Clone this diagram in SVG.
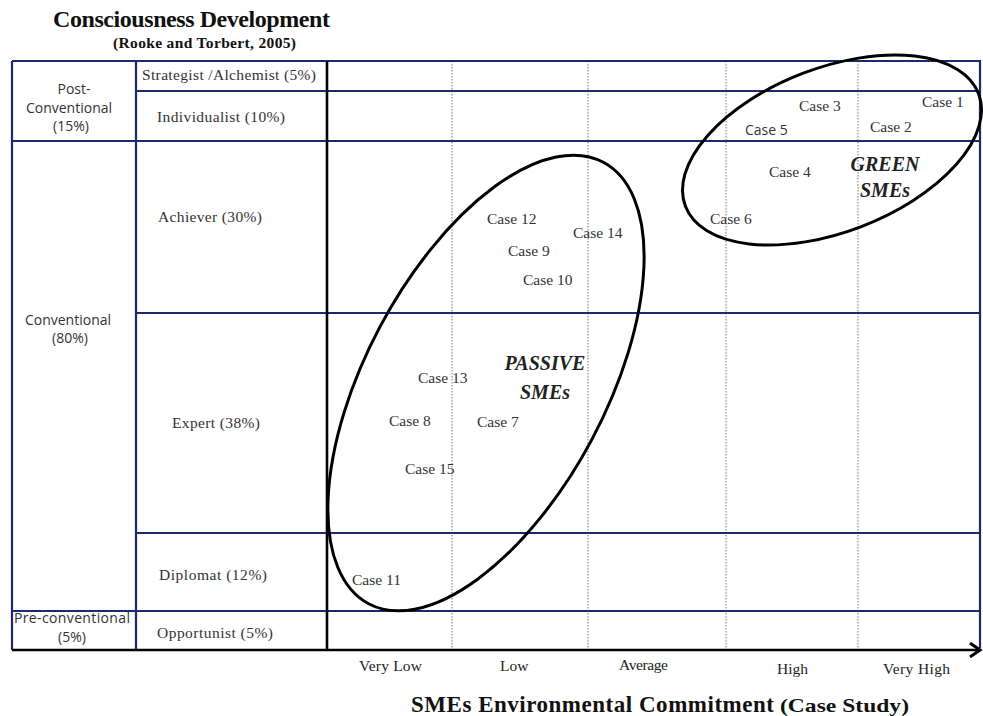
<svg xmlns="http://www.w3.org/2000/svg" width="983" height="716" viewBox="0 0 983 716">
<style>
.nv{stroke:#1b2a6e;stroke-width:2.2;fill:none}
.bk{stroke:#000;stroke-width:2.6;fill:none}
.dt{stroke:#777;stroke-width:1;stroke-dasharray:1.5 1.5;fill:none}
.el{stroke:#000;stroke-width:3;fill:none}
.ttl{font-family:"Liberation Serif",serif;font-weight:bold;fill:#111}
.grp{font-family:"Open Sans","Liberation Sans",sans-serif;font-size:14px;fill:#333;text-anchor:middle}
.lvl{font-family:"Liberation Serif",serif;font-size:15.5px;fill:#333}
.cs{font-family:"Liberation Serif",serif;font-size:15.5px;fill:#333}
.css{font-family:"Open Sans","Liberation Sans",sans-serif;font-size:14px;fill:#333}
.big{font-family:"Liberation Serif",serif;font-size:20px;font-weight:bold;font-style:italic;fill:#222;text-anchor:middle}
.ax{font-family:"Liberation Serif",serif;font-size:15.5px;fill:#222}
</style>
<defs>
<marker id="arr" markerWidth="14" markerHeight="16" refX="12" refY="8" orient="auto" markerUnits="userSpaceOnUse">
<path d="M2,1 L12,8 L2,15" fill="none" stroke="#000" stroke-width="3"/>
</marker>
</defs>
<rect width="983" height="716" fill="#fff"/>

<g id="titles">
<text class="ttl" x="53" y="27" font-size="24" textLength="277">Consciousness Development</text>
<text class="ttl" x="113" y="48" font-size="15.5" textLength="183">(Rooke and Torbert, 2005)</text>
<text class="ttl" x="411" y="712" font-size="23" textLength="363">SMEs Environmental Commitment</text>
<text class="ttl" x="780" y="712" font-size="19" textLength="129" lengthAdjust="spacingAndGlyphs">(Case Study)</text>
</g>

<g id="grid">
<line class="dt" x1="452" y1="61" x2="452" y2="649"/>
<line class="dt" x1="588" y1="61" x2="588" y2="649"/>
<line class="dt" x1="726" y1="61" x2="726" y2="649"/>
<line class="dt" x1="858" y1="61" x2="858" y2="649"/>
<line class="nv" x1="12" y1="61" x2="981" y2="61"/>
<line class="nv" x1="136" y1="91" x2="981" y2="91"/>
<line class="nv" x1="12" y1="141" x2="981" y2="141"/>
<line class="nv" x1="136" y1="313" x2="981" y2="313"/>
<line class="nv" x1="136" y1="533" x2="981" y2="533"/>
<line class="nv" x1="12" y1="611" x2="981" y2="611"/>
<line class="nv" x1="12" y1="61" x2="12" y2="650"/>
<line class="nv" x1="136" y1="61" x2="136" y2="650"/>
<line class="nv" x1="980" y1="61" x2="980" y2="648"/>
<line class="bk" x1="327" y1="61" x2="327" y2="650"/>
</g>

<g id="connectors">
<line class="bk" x1="12" y1="650" x2="980" y2="650" marker-end="url(#arr)"/>
</g>

<g id="groups">
<text class="grp" x="74" y="94">Post-</text>
<text class="grp" x="69" y="113">Conventional</text>
<text class="grp" x="71" y="131">(15%)</text>
<text class="grp" x="68" y="325">Conventional</text>
<text class="grp" x="70" y="343">(80%)</text>
<text class="grp" x="72" y="623" font-size="12.5" textLength="116">Pre-conventional</text>
<text class="grp" x="72" y="642" font-size="12.5">(5%)</text>
</g>

<g id="levels">
<text class="lvl" x="142" y="80" textLength="174">Strategist /Alchemist (5%)</text>
<text class="lvl" x="157" y="122" textLength="128">Individualist (10%)</text>
<text class="lvl" x="158" y="222" textLength="104">Achiever (30%)</text>
<text class="lvl" x="172" y="428" textLength="88">Expert (38%)</text>
<text class="lvl" x="159" y="580" textLength="108">Diplomat (12%)</text>
<text class="lvl" x="157" y="638" textLength="116">Opportunist (5%)</text>
</g>

<g id="axis-labels">
<text class="ax" x="359" y="671" textLength="63">Very Low</text>
<text class="ax" x="500" y="671" font-size="16">Low</text>
<text class="ax" x="619" y="670" textLength="49">Average</text>
<text class="ax" x="777" y="674">High</text>
<text class="ax" x="883" y="674" textLength="67">Very High</text>
</g>

<g id="green-smes">
<ellipse class="el" cx="832" cy="150" rx="157" ry="82" transform="rotate(-21 832 150)"/>
<text class="big" x="885" y="171">GREEN</text>
<text class="big" x="885" y="197">SMEs</text>
</g>
<g id="passive-smes">
<ellipse class="el" cx="486" cy="383" rx="250" ry="120" transform="rotate(-62 486 383)"/>
<text class="big" x="545" y="370">PASSIVE</text>
<text class="big" x="545" y="399">SMEs</text>
</g>

<g id="case1"><text class="cs" x="922" y="107">Case 1</text></g>
<g id="case2"><text class="cs" x="870" y="132">Case 2</text></g>
<g id="case3"><text class="cs" x="799" y="111">Case 3</text></g>
<g id="case4"><text class="cs" x="769" y="177">Case 4</text></g>
<g id="case5"><text class="css" x="745" y="135">Case 5</text></g>
<g id="case6"><text class="cs" x="710" y="224">Case 6</text></g>
<g id="case7"><text class="cs" x="477" y="427">Case 7</text></g>
<g id="case8"><text class="cs" x="389" y="426">Case 8</text></g>
<g id="case9"><text class="cs" x="508" y="256">Case 9</text></g>
<g id="case10"><text class="cs" x="523" y="285">Case 10</text></g>
<g id="case11"><text class="cs" x="352" y="585">Case 11</text></g>
<g id="case12"><text class="cs" x="487" y="224">Case 12</text></g>
<g id="case13"><text class="cs" x="418" y="383">Case 13</text></g>
<g id="case14"><text class="cs" x="573" y="238">Case 14</text></g>
<g id="case15"><text class="cs" x="405" y="474">Case 15</text></g>
</svg>
